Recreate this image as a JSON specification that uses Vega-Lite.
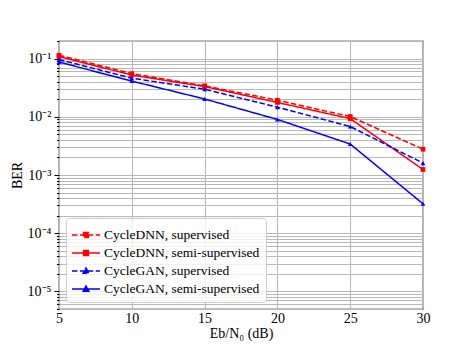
{
  "$schema": "https://vega.github.io/schema/vega-lite/v6.json",
  "width": 364,
  "height": 268,
  "autosize": {"type": "none"},
  "padding": {"left": 59, "top": 41, "right": 48, "bottom": 39},
  "config": {
    "font": "Liberation Serif, Times New Roman, serif",
    "view": {"stroke": "#000000", "strokeWidth": 1.2},
    "axis": {"labelFont": "Liberation Serif, Times New Roman, serif", "titleFont": "Liberation Serif, Times New Roman, serif", "labelFontSize": 14, "titleFontSize": 14, "titleFontWeight": "normal", "labelColor": "#000", "titleColor": "#000", "gridColor": "#b8b8b8", "gridWidth": 1, "domain": false, "tickColor": "#000"}
  },
  "data": {"values": [
    {"x": 5, "ber": 0.114, "series": "CycleDNN, supervised"},
    {"x": 10, "ber": 0.055, "series": "CycleDNN, supervised"},
    {"x": 15, "ber": 0.034, "series": "CycleDNN, supervised"},
    {"x": 20, "ber": 0.0192, "series": "CycleDNN, supervised"},
    {"x": 25, "ber": 0.0101, "series": "CycleDNN, supervised"},
    {"x": 30, "ber": 0.00277, "series": "CycleDNN, supervised"},
    {"x": 5, "ber": 0.108, "series": "CycleDNN, semi-supervised"},
    {"x": 10, "ber": 0.052, "series": "CycleDNN, semi-supervised"},
    {"x": 15, "ber": 0.033, "series": "CycleDNN, semi-supervised"},
    {"x": 20, "ber": 0.0176, "series": "CycleDNN, semi-supervised"},
    {"x": 25, "ber": 0.0093, "series": "CycleDNN, semi-supervised"},
    {"x": 30, "ber": 0.00124, "series": "CycleDNN, semi-supervised"},
    {"x": 5, "ber": 0.096, "series": "CycleGAN, supervised"},
    {"x": 10, "ber": 0.046, "series": "CycleGAN, supervised"},
    {"x": 15, "ber": 0.0297, "series": "CycleGAN, supervised"},
    {"x": 20, "ber": 0.0146, "series": "CycleGAN, supervised"},
    {"x": 25, "ber": 0.0068, "series": "CycleGAN, supervised"},
    {"x": 30, "ber": 0.0016, "series": "CycleGAN, supervised"},
    {"x": 5, "ber": 0.087, "series": "CycleGAN, semi-supervised"},
    {"x": 10, "ber": 0.041, "series": "CycleGAN, semi-supervised"},
    {"x": 15, "ber": 0.0202, "series": "CycleGAN, semi-supervised"},
    {"x": 20, "ber": 0.009, "series": "CycleGAN, semi-supervised"},
    {"x": 25, "ber": 0.0034, "series": "CycleGAN, semi-supervised"},
    {"x": 30, "ber": 0.00032, "series": "CycleGAN, semi-supervised"}
  ]},
  "encoding": {
    "x": {"field": "x", "type": "quantitative", "scale": {"domain": [5, 30], "nice": false, "zero": false},
      "axis": {"values": [5, 10, 15, 20, 25, 30], "title": "Eb/N₀ (dB)", "tickSize": 0, "labelPadding": 2, "titlePadding": 1, "labelFlush": false}},
    "y": {"field": "ber", "type": "quantitative", "scale": {"type": "log", "domain": [0.000005, 0.2], "nice": false},
      "axis": {"title": "BER", "titlePadding": 3,
        "values": [0.000005, 0.000006, 0.000007, 0.000008, 0.000009, 0.00001, 0.00002, 0.00003, 0.00004, 0.00005, 0.00006, 0.00007, 0.00008, 0.00009, 0.0001, 0.0002, 0.0003, 0.0004, 0.0005, 0.0006, 0.0007, 0.0008, 0.0009, 0.001, 0.002, 0.003, 0.004, 0.005, 0.006, 0.007, 0.008, 0.009, 0.01, 0.02, 0.03, 0.04, 0.05, 0.06, 0.07, 0.08, 0.09, 0.1, 0.2],
        "labelExpr": "datum.value==0.1?'10⁻¹':datum.value==0.01?'10⁻²':datum.value==0.001?'10⁻³':datum.value==0.0001?'10⁻⁴':datum.value==0.00001?'10⁻⁵':''",
        "tickSize": {"condition": {"test": "datum.value==0.1||datum.value==0.01||datum.value==0.001||datum.value==0.0001||datum.value==0.00001", "value": 5}, "value": 2.5},
        "labelPadding": 3}}
  },
  "layer": [
    {
      "mark": {"type": "line", "strokeWidth": 1.5},
      "encoding": {
        "strokeDash": {"field": "series", "type": "nominal",
          "scale": {"domain": ["CycleDNN, supervised", "CycleDNN, semi-supervised", "CycleGAN, supervised", "CycleGAN, semi-supervised"], "range": [[5.5, 2.4], [1, 0], [5.5, 2.4], [1, 0]]}},
        "color": {"field": "series", "type": "nominal",
          "scale": {"domain": ["CycleDNN, supervised", "CycleDNN, semi-supervised", "CycleGAN, supervised", "CycleGAN, semi-supervised"], "range": ["#ff0000", "#ff0000", "#0000ff", "#0000ff"]},
          "legend": {"title": null, "orient": "bottom-left", "offset": 7, "labelFont": "Liberation Serif, Times New Roman, serif", "labelFontSize": 13.5, "labelColor": "#000", "symbolSize": 400, "symbolStrokeWidth": 1.5, "rowPadding": 0, "labelOffset": 10,
            "padding": 6, "fillColor": "rgba(255,255,255,0.8)", "strokeColor": "#cccccc", "cornerRadius": 3,
            "encode": {"symbols": {"update": {
              "shape": {"signal": "indexof(datum.value,'CycleDNN')>=0 ? 'M-1.4,0H1.4M-0.24,-0.24H0.24V0.24H-0.24Z' : 'M-1.4,0H1.4M0,-0.3L0.28,0.22H-0.28Z'"},
              "fill": {"scale": "color", "field": "value"},
              "fillOpacity": {"value": 1},
              "xc": {"value": 14}}}}}}
      }
    },
    {
      "mark": {"type": "point", "filled": true, "size": 22, "opacity": 1},
      "encoding": {
        "color": {"condition": {"test": "indexof(datum.series,'CycleDNN')>=0", "value": "#ff0000"}, "value": "#0000ff"},
        "shape": {"condition": {"test": "indexof(datum.series,'CycleDNN')>=0", "value": "square"}, "value": "triangle-up"}
      }
    }
  ]
}
